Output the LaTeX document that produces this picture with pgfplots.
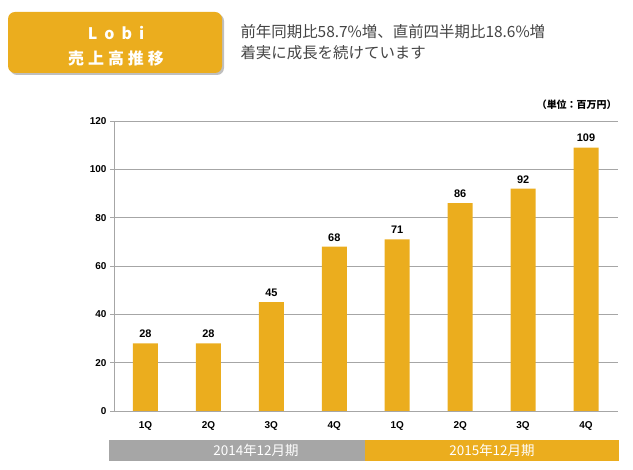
\documentclass[border=0pt]{standalone}
\usepackage{fontspec}
\usepackage{pgfplots}
\pgfplotsset{compat=1.18}
\setmainfont{Liberation Sans}
\newfontfamily\cjk{Noto Sans CJK JP}
\definecolor{lobi}{HTML}{EBAD1E}
\definecolor{gridc}{HTML}{A6A6A6}
\definecolor{txt}{HTML}{444444}

\begin{document}
\begin{tikzpicture}[x=1bp,y=1bp]
  \useasboundingbox (0,0) rectangle (633,470);

  % header box
  \fill[black!25, rounded corners=7bp] (10,395) rectangle (224,456);
  \fill[lobi, rounded corners=7bp] (8,397) rectangle (222,458);
  \node[white, font=\cjk\bfseries\fontsize{16}{17}\selectfont] at (116,437) {L\hspace{7bp}o\hspace{7bp}b\hspace{7bp}i};
  \node[white, font=\cjk\bfseries\fontsize{16}{17}\selectfont] at (116,412) {売\hspace{4bp}上\hspace{4bp}高\hspace{4bp}推\hspace{4bp}移};
  \node[txt, anchor=west, font=\cjk\fontsize{15.5}{16}\selectfont] at (237,438) {前年同期比58.7\%増、直前四半期比18.6\%増};
  \node[txt, anchor=west, font=\cjk\fontsize{15.5}{16}\selectfont] at (237,417) {着実に成長を続けています};
  \node[anchor=east, font=\cjk\bfseries\fontsize{10}{11}\selectfont] at (620,365) {（単位：百万円）};

  \begin{axis}[
      at={(114bp,59bp)}, anchor=south west,
      scale only axis, width=503.5bp, height=290bp,
      ybar, bar width=25bp,
      xmin=-0.5, xmax=7.5, ymin=0, ymax=120,
      ytick={0,20,...,120},
      xtick={0,...,7},
      xticklabels={1Q,2Q,3Q,4Q,1Q,2Q,3Q,4Q},
      extra x ticks={-0.5,0.5,...,7.5},
      extra x tick labels={},
      extra x tick style={grid=none, major tick length=4bp},
      major x tick style={draw=none},
      tick align=outside,
      major tick length=4bp,
      tick style={draw=gridc, line width=0.8pt},
      ymajorgrids,
      grid style={draw=gridc, line width=0.9pt},
      axis x line*=bottom, axis y line*=left,
      axis line style={-, draw=gridc, line width=0.9pt},
      /pgf/number format/assume math mode=true,
      ticklabel style={font=\bfseries\fontsize{10}{11}\selectfont},
      xticklabel style={yshift=-3bp},
      nodes near coords,
      nodes near coords style={font=\bfseries\fontsize{11}{12}\selectfont, black, yshift=2bp},
    ]
    \addplot[fill=lobi, draw=none] coordinates {
      (0,28) (1,28) (2,45) (3,68) (4,71) (5,86) (6,92) (7,109)
    };
  \end{axis}

  % fiscal year bands
  \fill[gridc] (109,8.5) rectangle (365,30);
  \fill[lobi] (365,8.5) rectangle (619,30);
  \node[white, font=\cjk\fontsize{13.5}{14}\selectfont] at (256,19.5) {2014年12月期};
  \node[white, font=\cjk\fontsize{13.5}{14}\selectfont] at (492,19.5) {2015年12月期};
\end{tikzpicture}
\end{document}
